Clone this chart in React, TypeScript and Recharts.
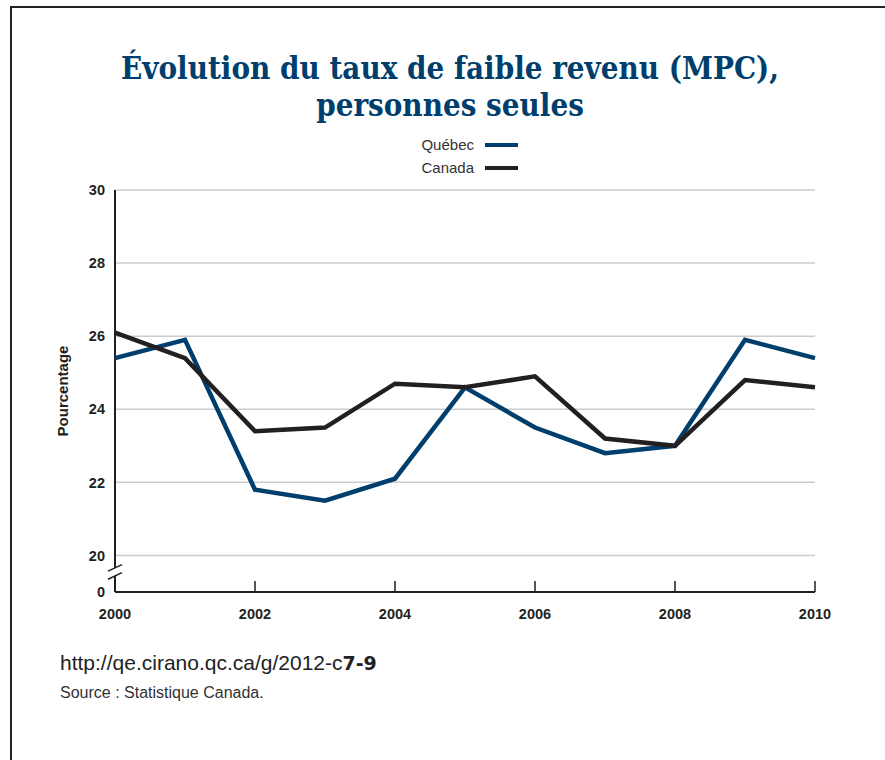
import { LineChart, Line, XAxis, YAxis, CartesianGrid, ReferenceLine } from "recharts";

const years = [2000, 2001, 2002, 2003, 2004, 2005, 2006, 2007, 2008, 2009, 2010];
const quebec = [25.4, 25.9, 21.8, 21.5, 22.1, 24.6, 23.5, 22.8, 23.0, 25.9, 25.4];
const canada = [26.1, 25.4, 23.4, 23.5, 24.7, 24.6, 24.9, 23.2, 23.0, 24.8, 24.6];
const xTicks = [2000, 2002, 2004, 2006, 2008, 2010];
// 19 stands for the broken-axis "0"
const yTicks = [19, 20, 22, 24, 26, 28, 30];
const gridValues = [20, 22, 24, 26, 28, 30];

const data = years.map((year, i) => ({ year, quebec: quebec[i], canada: canada[i] }));

const BLUE = "#003f6d";
const DARK = "#231f20";
const sans = '"Liberation Sans", Arial, sans-serif';

function YearTick({ x, y, payload }: any) {
  return (
    <g>
      <line x1={x} x2={x} y1={y - 11} y2={y} stroke={DARK} strokeWidth={1.5} />
      <text x={x} y={y + 27} textAnchor="middle" fontWeight="bold" fontSize={14.5} fill={DARK} fontFamily={sans}>
        {payload.value}
      </text>
    </g>
  );
}

export default function App() {
  return (
    <div style={{ position: "absolute", left: 0, top: 0, width: 885, height: 760, overflow: "hidden", fontFamily: sans }}>
      <div
        style={{
          position: "absolute",
          left: 10,
          top: 6,
          width: 875,
          height: 754,
          borderTop: "2px solid #222",
          borderLeft: "2px solid #222",
          boxSizing: "border-box",
        }}
      />
      <div
        style={{
          position: "absolute",
          left: 0,
          width: 900,
          top: 50,
          textAlign: "center",
          color: BLUE,
          fontFamily: '"DejaVu Serif", serif',
          fontStretch: "condensed",
          fontWeight: "bold",
          fontSize: 31,
          lineHeight: "37px",
        }}
      >
        Évolution du taux de faible revenu (MPC),
        <br />
        personnes seules
      </div>

      {/* legend */}
      <div style={{ position: "absolute", top: 133, left: 370, width: 104, textAlign: "right", fontSize: 15, lineHeight: "23px", color: "#333" }}>
        <div>Québec</div>
        <div>Canada</div>
      </div>
      <div style={{ position: "absolute", left: 485, top: 143, width: 33, height: 4, background: BLUE }} />
      <div style={{ position: "absolute", left: 485, top: 166, width: 33, height: 4, background: DARK }} />

      <div
        style={{
          position: "absolute",
          left: 62,
          top: 391,
          transform: "translate(-50%, -50%) rotate(-90deg)",
          fontSize: 15,
          fontWeight: "bold",
          color: DARK,
          whiteSpace: "nowrap",
        }}
      >
        Pourcentage
      </div>

      <div style={{ position: "absolute", left: 0, top: 0 }}>
        <LineChart width={885} height={640} data={data} margin={{ top: 190, right: 70, bottom: 18, left: 0 }}>
          <CartesianGrid vertical={false} horizontalValues={gridValues} stroke="#cccccc" strokeWidth={1.5} />
          <XAxis
            dataKey="year"
            type="number"
            domain={[2000, 2010]}
            ticks={xTicks}
            height={30}
            tickSize={0}
            tickMargin={0}
            tickLine={false}
            axisLine={{ stroke: DARK, strokeWidth: 2 }}
            tick={<YearTick />}
          />
          <YAxis
            type="number"
            domain={[19, 30]}
            ticks={yTicks}
            width={115}
            tickSize={0}
            tickMargin={10}
            tickLine={false}
            axisLine={false}
            tickFormatter={(v: number) => (v === 19 ? "0" : `${v}`)}
            tick={{ fill: DARK, fontSize: 14.5, fontWeight: "bold", fontFamily: sans }}
          />
          {/* y axis drawn in two pieces around the break */}
          <ReferenceLine segment={[{ x: 2000, y: 30 }, { x: 2000, y: 19.655 }]} stroke={DARK} strokeWidth={2} ifOverflow="visible" />
          <ReferenceLine segment={[{ x: 2000, y: 19.436 }, { x: 2000, y: 19 }]} stroke={DARK} strokeWidth={2} ifOverflow="visible" />
          <ReferenceLine segment={[{ x: 1999.9, y: 19.57 }, { x: 2000.1, y: 19.75 }]} stroke={DARK} strokeWidth={1.5} ifOverflow="visible" />
          <ReferenceLine segment={[{ x: 1999.9, y: 19.35 }, { x: 2000.1, y: 19.53 }]} stroke={DARK} strokeWidth={1.5} ifOverflow="visible" />
          <Line type="linear" dataKey="quebec" stroke={BLUE} strokeWidth={4.5} dot={false} isAnimationActive={false} />
          <Line type="linear" dataKey="canada" stroke={DARK} strokeWidth={4.5} dot={false} isAnimationActive={false} />
        </LineChart>
      </div>

      <div style={{ position: "absolute", left: 60, top: 651, fontSize: 21, color: "#222", whiteSpace: "nowrap" }}>
        http://qe.cirano.qc.ca/g/2012-c
        <span style={{ fontWeight: 900, fontFamily: '"DejaVu Sans", sans-serif', fontSize: 19 }}>7-9</span>
      </div>
      <div style={{ position: "absolute", left: 60, top: 684, fontSize: 16, color: "#333", whiteSpace: "nowrap" }}>
        Source : Statistique Canada.
      </div>
    </div>
  );
}
